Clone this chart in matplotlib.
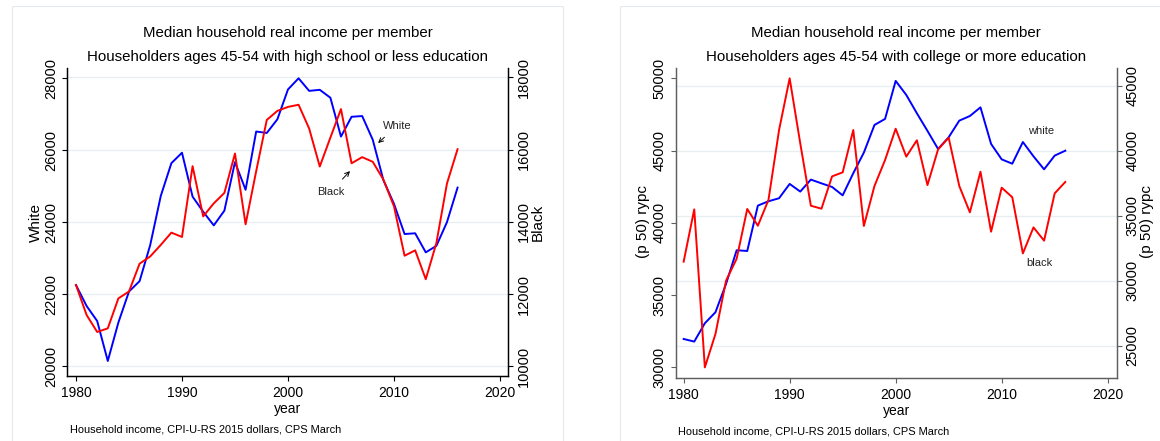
import matplotlib.pyplot as plt
from matplotlib.patches import Rectangle

plt.rcParams['font.family'] = ['Liberation Sans', 'DejaVu Sans']

# data (1980-2016)
years = list(range(1980, 2017))

# high school or less
white_hs = [22250, 21670, 21250, 20140, 21210, 22070, 22360, 23360, 24730, 25640,
            25930, 24710, 24290, 23910, 24320, 25670, 24900, 26520, 26480, 26860,
            27690, 28000, 27650, 27680, 27460, 26380, 26930, 26950, 26290, 25170,
            24510, 23670, 23690, 23160, 23340, 24000, 24960]
black_hs = [12250, 11420, 10950, 11050, 11880, 12070, 12840, 13040, 13360, 13700,
            13580, 15540, 14150, 14510, 14800, 15890, 13930, 15400, 16820, 17070,
            17180, 17240, 16580, 15530, 16330, 17120, 15620, 15790, 15660, 15170,
            14430, 13060, 13210, 12410, 13410, 15060, 16010]

# college or more
white_col = [31960, 31780, 33050, 33810, 35770, 38100, 38050, 41190, 41490, 41700,
             42690, 42160, 42990, 42730, 42480, 41900, 43430, 44860, 46770, 47190,
             49820, 48850, 47580, 46360, 45110, 45920, 47070, 47390, 47990, 45460,
             44390, 44090, 45590, 44600, 43700, 44650, 44990]
black_col = [31470, 35500, 23330, 25900, 30010, 31700, 35530, 34240, 36220, 41610,
             45590, 40580, 35780, 35550, 38040, 38350, 41610, 34220, 37300, 39300,
             41710, 39560, 40820, 37370, 40120, 41020, 37300, 35270, 38400, 33780,
             37170, 36430, 32110, 34110, 33090, 36730, 37610]

x_ticks = [1980, 1990, 2000, 2010, 2020]
hs_white_ticks = [20000, 22000, 24000, 26000, 28000]
hs_black_ticks = [10000, 12000, 14000, 16000, 18000]
col_white_ticks = [30000, 35000, 40000, 45000, 50000]
col_black_ticks = [25000, 30000, 35000, 40000, 45000]

title1 = 'Median household real income per member'
title_hs = 'Householders ages 45-54 with high school or less education'
title_col = 'Householders ages 45-54 with college or more education'
note = 'Household income, CPI-U-RS 2015 dollars, CPS March'

W, H = 1160, 441
fig = plt.figure(figsize=(W / 100, H / 100), dpi=100)


def fx(px):
    return px / W


def fy(py):
    return 1 - py / H


def panel(rect, wvals, bvals, wticks, bticks, xlim, wlim, blim, spine_col,
          ylab_l, ylab_r, title2, pos):
    # background axes only for the grid (follows the right-hand axis)
    axg = fig.add_axes(rect)
    axg.set_xlim(*xlim)
    axg.set_ylim(*blim)
    axg.set_yticks(bticks)
    axg.grid(axis='y', color='#e6eef0', lw=0.9)
    axg.tick_params(left=False, bottom=False, labelleft=False, labelbottom=False)
    for s in axg.spines.values():
        s.set_visible(False)

    ax = fig.add_axes(rect)
    ax.patch.set_visible(False)
    ax2 = ax.twinx()
    ax.plot(years, wvals, color='blue', lw=1.4)
    ax2.plot(years, bvals, color='red', lw=1.4)
    ax.set_xlim(*xlim)
    ax.set_ylim(*wlim)
    ax2.set_ylim(*blim)
    ax.set_xticks(x_ticks)
    ax.set_yticks(wticks)
    ax2.set_yticks(bticks)
    for a in (ax, ax2):
        a.spines['top'].set_visible(False)
        for s in ('left', 'right', 'bottom'):
            a.spines[s].set_color(spine_col)
            a.spines[s].set_linewidth(0.9)
        a.tick_params(direction='out', length=3.4, width=0.8, color=spine_col,
                      labelsize=10.5, pad=3)
        a.tick_params(axis='y', labelrotation=90)
        for lbl in a.get_yticklabels():
            lbl.set_va('center')
    ax.tick_params(axis='x', labelsize=10, pad=4)
    ax.set_xlabel('year', fontsize=10, labelpad=1.5)

    cx = rect[0] + rect[2] / 2
    fig.text(cx, fy(33), title1, ha='center', va='center', fontsize=10.8)
    fig.text(cx, fy(57), title2, ha='center', va='center', fontsize=10.8)
    fig.text(fx(pos['yl']), fy(222), ylab_l, rotation=90, ha='center', va='center', fontsize=11)
    fig.text(fx(pos['yr']), fy(222), ylab_r, rotation=90, ha='center', va='center', fontsize=11)
    fig.text(fx(pos['note']), fy(pos['note_y']), note, ha='left', va='center', fontsize=7.9)
    return ax


# left panel: high school or less
ax_l = panel([fx(67.3), fy(376), fx(507.7 - 67.3), (376 - 68.3) / H],
             white_hs, black_hs, hs_white_ticks, hs_black_ticks,
             (1979.18, 2020.73), (19722, 28278), (9731, 18249), 'black',
             'White', 'Black', title_hs,
             {'yl': 36, 'yr': 538, 'note': 70, 'note_y': 429.5})
ax_l.annotate('White', xy=(2008.5, 26200), xytext=(2010.3, 26680),
              ha='center', va='center', fontsize=8, color='#222222',
              arrowprops=dict(arrowstyle='->', lw=0.7, color='black', shrinkA=4, shrinkB=0))
ax_l.annotate('Black', xy=(2005.85, 25420), xytext=(2004.0, 24840),
              ha='center', va='center', fontsize=8, color='#222222',
              arrowprops=dict(arrowstyle='->', lw=0.7, color='black', shrinkA=5, shrinkB=0))

# right panel: college or more
ax_r = panel([fx(675.7), fy(377.5), fx(1116.7 - 675.7), (377.5 - 68.3) / H],
             white_col, black_col, col_white_ticks, col_black_ticks,
             (1979.25, 2020.85), (29294, 50692), (22551, 46363), '#606060',
             '(p 50) rypc', '(p 50) rypc', title_col,
             {'yl': 643, 'yr': 1147, 'note': 678, 'note_y': 432})
ax_r.text(2013.7, 46350, 'white', ha='center', va='center', fontsize=8, color='#222222')
ax_r.text(2013.6, 37200, 'black', ha='center', va='center', fontsize=8, color='#222222')

# faint panel frames
for x0, x1 in ((12, 562.7), (620, 1175)):
    fig.add_artist(Rectangle((fx(x0), fy(445)), fx(x1 - x0), (445 - 6) / H,
                             transform=fig.transFigure, fill=False,
                             edgecolor='#e4ebee', lw=0.8))

fig.savefig('out.png', dpi=100)
